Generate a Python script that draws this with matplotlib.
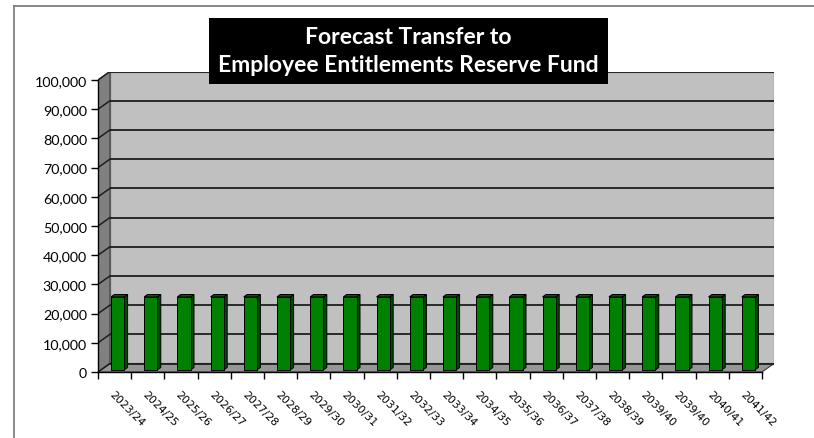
import numpy as np
import matplotlib.pyplot as plt
from matplotlib.patches import Polygon, Rectangle
from matplotlib.lines import Line2D

# ---------------------------------------------------
# Data
# ---------------------------------------------------

years = [
    "2023/24", "2024/25", "2025/26", "2026/27", "2027/28",
    "2028/29", "2029/30", "2030/31", "2031/32", "2032/33",
    "2033/34", "2034/35", "2035/36", "2036/37", "2037/38",
    "2038/39", "2039/40", "2039/40", "2040/41", "2041/42",
]

transfer = [
    25000, 25000, 25000, 25000, 25000,
    25000, 25000, 25000, 25000, 25000,
    25000, 25000, 25000, 25000, 25000,
    25000, 25000, 25000, 25000, 25000,
]

y_ticks = [0, 10000, 20000, 30000, 40000, 50000, 60000, 70000, 80000, 90000, 100000]

title_lines = ["Forecast Transfer to", "Employee Entitlements Reserve Fund"]

# ---------------------------------------------------
# Layout (pixels on an 814 x 439 canvas)
# ---------------------------------------------------

W, H = 814, 439
n = len(years)
y_max = y_ticks[-1]

front_left, front_right = 98, 762
front_bottom, front_top = 373, 81
depth_x, depth_y = 12, 8.5          # shift of the back wall in pixels

px_per_cat = (front_right - front_left) / n
px_per_unit = (front_bottom - front_top) / y_max
ddx = depth_x / px_per_cat          # depth offset in data units
ddy = depth_y / px_per_unit

bar_w = 0.4
bar_front = 0.25                    # fraction of depth where bar front sits
bar_depth = 0.28

fig = plt.figure(figsize=(W / 100, H / 100), dpi=100)
fig.patch.set_facecolor("white")

ax = fig.add_axes([
    front_left / W,
    (H - front_bottom) / H,
    (front_right + depth_x - front_left) / W,
    (front_bottom - front_top + depth_y) / H,
])
ax.set_xlim(-0.5, n - 0.5 + ddx)
ax.set_ylim(0, y_max + ddy)
ax.patch.set_visible(False)

x0, x1 = -0.5, n - 0.5

# back wall, side wall, floor
ax.add_patch(Polygon(
    [(x0 + ddx, ddy), (x1 + ddx, ddy), (x1 + ddx, y_max + ddy), (x0 + ddx, y_max + ddy)],
    closed=True, fc="#c0c0c0", ec="#8a8a8a", lw=1.0, zorder=0))
ax.add_patch(Polygon(
    [(x0, 0), (x0 + ddx, ddy), (x0 + ddx, y_max + ddy), (x0, y_max)],
    closed=True, fc="#808080", ec="#3a3a3a", lw=0.8, zorder=0.5))
ax.add_patch(Polygon(
    [(x0, 0), (x1, 0), (x1 + ddx, ddy), (x0 + ddx, ddy)],
    closed=True, fc="#969696", ec="#3a3a3a", lw=0.8, zorder=0.5))

# gridlines on back wall and side wall
for v in y_ticks:
    ax.plot([x0 + ddx, x1 + ddx], [v + ddy, v + ddy], color="#1e1e1e", lw=1.3, zorder=1,
            solid_capstyle="butt")
    ax.plot([x0, x0 + ddx], [v, v + ddy], color="#1e1e1e", lw=1.1, zorder=1)

# bars: front faces through ax.bar, sides and tops as offset polygons
xs = np.arange(n)
fx = bar_front * ddx
fy = bar_front * ddy
bx = bar_depth * ddx
by = bar_depth * ddy

for x, v in zip(xs, transfer):
    xl = x + fx - bar_w / 2
    xr = x + fx + bar_w / 2
    ax.add_patch(Polygon(
        [(xr, fy), (xr + bx, fy + by), (xr + bx, fy + by + v), (xr, fy + v)],
        closed=True, fc="#004a00", ec="black", lw=0.7, zorder=2.8))
    ax.add_patch(Polygon(
        [(xl, fy + v), (xr, fy + v), (xr + bx, fy + v + by), (xl + bx, fy + v + by)],
        closed=True, fc="#005e00", ec="black", lw=0.7, zorder=2.8))

ax.bar(xs + fx, transfer, width=bar_w, bottom=fy, color="#008000",
       edgecolor="black", linewidth=0.7, zorder=3)

# axes lines and ticks
for s in ["top", "right"]:
    ax.spines[s].set_visible(False)
ax.spines["left"].set_bounds(0, y_max)
ax.spines["bottom"].set_bounds(x0, x1)
ax.spines["left"].set_linewidth(1.0)
ax.spines["bottom"].set_linewidth(1.0)

ax.set_yticks(y_ticks)
ax.set_yticklabels([f"{v:,}" for v in y_ticks], fontfamily="Lato", fontsize=10.3)
ax.tick_params(axis="y", length=5, width=1, pad=3)

ax.set_xticks(xs)
ax.set_xticklabels(years, rotation=-45, ha="left", va="top", rotation_mode="anchor",
                   fontfamily="DejaVu Sans", fontsize=7.8)
ax.set_xticks(np.arange(x0, x1 + 0.5, 1), minor=True)
ax.tick_params(axis="x", which="major", length=0, pad=12)
ax.tick_params(axis="x", which="minor", length=5, width=1)

# title box
fig.add_artist(Rectangle((209 / W, 1 - 85 / H), (608 - 209) / W, (85 - 19) / H,
                         transform=fig.transFigure, fc="black", ec="none", zorder=5))
fig.text(408.5 / W, 1 - 38 / H, title_lines[0], color="white", fontsize=16.5,
         fontfamily="Lato", fontweight="bold", ha="center", va="center", zorder=6)
fig.text(408.5 / W, 1 - 66 / H, title_lines[1], color="white", fontsize=16.5,
         fontfamily="Lato", fontweight="bold", ha="center", va="center", zorder=6)

# chart frame (top and left edges)
fig.add_artist(Line2D([14 / W, 1], [1 - 7 / H, 1 - 7 / H], transform=fig.transFigure,
                      color="#7f7f7f", lw=1.3))
fig.add_artist(Line2D([14 / W, 14 / W], [0, 1 - 7 / H], transform=fig.transFigure,
                      color="#7f7f7f", lw=1.3))

fig.savefig("out.png", dpi=100)
